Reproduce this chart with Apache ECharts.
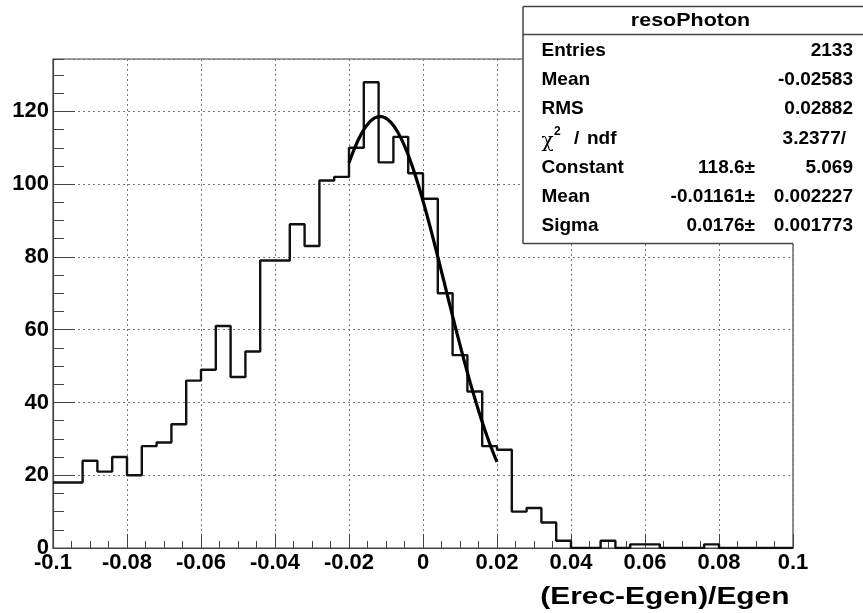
<!DOCTYPE html>
<html>
<head>
<meta charset="utf-8">
<script src="https://cdn.jsdelivr.net/npm/echarts@6/dist/echarts.min.js"></script>
<style>
  html, body { margin: 0; padding: 0; background: #fff; }
  #chart { width: 863px; height: 613px; }
</style>
</head>
<body>
<div id="chart"></div>
<script>
// Photon energy resolution histogram with a Gaussian fit over the core.

const histName = 'resoPhoton';
const xTitle = '(Erec-Egen)/Egen';

// 50 bins from -0.1 to 0.1
const binLow = -0.1;
const binHigh = 0.1;
const binCounts = [
  18, 18, 24, 21, 25, 20, 28, 29, 34, 46,
  49, 61, 47, 54, 79, 79, 89, 83, 101, 102,
  110, 128, 106, 113, 103, 96, 70, 53, 43, 28,
  27, 10, 11, 7, 2, 0, 0, 2, 0, 1,
  1, 0, 0, 0, 1, 0, 0, 0, 0, 0
];

// Statistics box
const statLabels = ['Entries', 'Mean', 'RMS'];
const statValues = ['2133', '-0.02583', '0.02882'];
const chi2Text = '3.2377/';

// Gaussian fit: Constant, Mean, Sigma
const fitLabels = ['Constant', 'Mean', 'Sigma'];
const fitValues = [118.6, -0.01161, 0.0176];
const fitErrors = ['5.069', '0.002227', '0.001773'];
const fitRange = [-0.02, 0.02];

// Axis setup
const yMax = 134.4;
const xTickStep = 0.02;
const yTickStep = 20;

// Histogram outline: one point at each lower bin edge, closed at the upper edge
const binWidth = (binHigh - binLow) / binCounts.length;
const histPoints = binCounts.map((c, i) => [+(binLow + i * binWidth).toFixed(6), c]);
histPoints.push([binHigh, binCounts[binCounts.length - 1]]);

// Fit function evaluated across its range
const [fitConst, fitMean, fitSigma] = fitValues;
const fitPoints = [];
const nFit = 200;
for (let i = 0; i <= nFit; i++) {
  const x = fitRange[0] + (fitRange[1] - fitRange[0]) * i / nFit;
  const z = (x - fitMean) / fitSigma;
  fitPoints.push([x, fitConst * Math.exp(-0.5 * z * z)]);
}

const FONT = '"Liberation Sans", Arial, Helvetica, sans-serif';
const axisLabelStyle = { color: '#000', fontFamily: FONT, fontWeight: 'bold', fontSize: 22 };
const gridLine = { show: true, lineStyle: { color: '#777', width: 1, type: [2, 3] } };

// Stats box graphics
const boxLeft = 523, boxTop = 6.5, boxBottom = 243.5, boxRight = 870, frameRight = 793;
const textX = 541.5, valueRight = 853, pmRight = 755;
const rowY0 = 51, rowStep = 29.1;
const statFont = 'bold 19px ' + FONT;

function txt(text, x, y, align, font, extra) {
  return Object.assign({
    type: 'text', x: x, y: y, z: 101,
    style: {
      text: text, x: 0, y: 0, font: font || statFont, fill: '#000',
      align: align || 'left', verticalAlign: 'middle',
      textAlign: align || 'left', textVerticalAlign: 'middle'
    }
  }, extra || {});
}

const boxChildren = [
  { type: 'rect', z: 100, shape: { x: boxLeft, y: boxTop, width: boxRight - boxLeft, height: boxBottom - boxTop },
    style: { fill: '#fff', stroke: null } },
  { type: 'line', z: 101, shape: { x1: boxLeft, y1: boxTop, x2: boxRight, y2: boxTop }, style: { stroke: '#444', lineWidth: 1.5 } },
  { type: 'line', z: 101, shape: { x1: boxLeft, y1: 34.5, x2: boxRight, y2: 34.5 }, style: { stroke: '#444', lineWidth: 1.5 } },
  { type: 'line', z: 101, shape: { x1: boxLeft, y1: boxTop, x2: boxLeft, y2: boxBottom }, style: { stroke: '#444', lineWidth: 1.5 } },
  { type: 'line', z: 101, shape: { x1: boxLeft, y1: boxBottom, x2: frameRight, y2: boxBottom }, style: { stroke: '#444', lineWidth: 1.5 } },
  txt(histName, 690.5, 20.5, 'center', 'bold 19px ' + FONT, { scaleX: 1.13 })
];

statLabels.forEach((lab, i) => {
  const y = rowY0 + i * rowStep;
  boxChildren.push(txt(lab, textX, y, 'left'));
  boxChildren.push(txt(statValues[i], valueRight, y, 'right'));
});

// chi-square / ndf row
const chiY = rowY0 + 3 * rowStep;
boxChildren.push(txt('\u03c7', textX, chiY + 3, 'left', '20px "DejaVu Serif", serif'));
boxChildren.push(txt('2', 554, chiY - 7, 'left', 'bold 12px ' + FONT));
boxChildren.push(txt('/', 574, chiY, 'left'));
boxChildren.push(txt('ndf', 587, chiY, 'left'));
boxChildren.push(txt(chi2Text, 846, chiY, 'right'));

fitLabels.forEach((lab, i) => {
  const y = rowY0 + (4 + i) * rowStep;
  boxChildren.push(txt(lab, textX, y, 'left'));
  boxChildren.push(txt(String(fitValues[i]) + '\u00b1', pmRight, y, 'right'));
  boxChildren.push(txt(fitErrors[i], valueRight, y, 'right'));
});

// x-axis title, bottom right
boxChildren.push(txt(xTitle, 789.5, 597.5, 'right', 'bold 23px ' + FONT, { scaleX: 1.3 }));

const chart = echarts.init(document.getElementById('chart'), null, { renderer: 'canvas' });

chart.setOption({
  animation: false,
  backgroundColor: '#fff',
  grid: {
    left: 53, right: 70, top: 59, bottom: 65,
    show: true, borderColor: '#444', borderWidth: 1.2, backgroundColor: 'transparent',
    containLabel: false, outerBoundsMode: 'none'
  },
  xAxis: {
    type: 'value', min: binLow, max: binHigh, interval: xTickStep,
    axisLine: { show: true, onZero: false, lineStyle: { color: '#444', width: 1.2 } },
    axisTick: { show: true, inside: true, length: 14, lineStyle: { color: '#444', width: 1 } },
    minorTick: { show: true, splitNumber: 4, length: 7, lineStyle: { color: '#444', width: 1 } },
    axisLabel: Object.assign({ margin: 4, showMinLabel: true, showMaxLabel: true, hideOverlap: false }, axisLabelStyle),
    splitLine: gridLine
  },
  yAxis: [
    {
      type: 'value', min: 0, max: yMax, interval: yTickStep,
      axisLine: { show: true, onZero: false, lineStyle: { color: '#444', width: 1.2 } },
      axisTick: { show: true, inside: true, length: 22, lineStyle: { color: '#444', width: 1 } },
      axisLabel: Object.assign({
        margin: 4, showMaxLabel: false,
        formatter: v => (Math.abs(v % yTickStep) < 1e-9 ? String(v) : '')
      }, axisLabelStyle),
      splitLine: gridLine
    },
    {
      // minor ticks every 5 counts
      type: 'value', min: 0, max: yMax, interval: 5, position: 'left',
      axisLine: { show: false, onZero: false },
      axisTick: { show: true, inside: true, length: 11, lineStyle: { color: '#444', width: 1 } },
      axisLabel: { show: false },
      splitLine: { show: false }
    }
  ],
  series: [
    {
      name: histName, type: 'line', step: 'end', data: histPoints,
      yAxisIndex: 0, symbol: 'none', clip: true, z: 3,
      lineStyle: { color: '#111', width: 2.4 }
    },
    {
      name: 'gaus', type: 'line', data: fitPoints,
      yAxisIndex: 0, symbol: 'none', smooth: false, clip: true, z: 4,
      lineStyle: { color: '#000', width: 3.2 }
    }
  ],
  graphic: { elements: boxChildren }
});
</script>
</body>
</html>
